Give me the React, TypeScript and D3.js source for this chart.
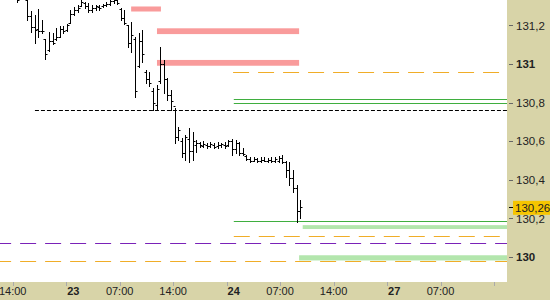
import React from "react";
import * as d3 from "d3";

const W = 550;
const H = 300;
const PLOT_R = 507;
const PLOT_B = 282;

// OHLC bars: [open, high, low, close]
const bars: [number, number, number, number][] = [
  [131.357, 131.383, 131.321, 131.33],
  [131.35, 131.42, 131.345, 131.4],
  [131.4, 131.43, 131.35, 131.36],
  [131.33, 131.36, 131.228, 131.25],
  [131.25, 131.275, 131.166, 131.19],
  [131.19, 131.254, 131.109, 131.176],
  [131.18, 131.285, 131.14, 131.17],
  [131.17, 131.228, 131.161, 131.17],
  [131.13, 131.13, 131.026, 131.05],
  [131.07, 131.166, 131.067, 131.12],
  [131.12, 131.16, 131.104, 131.11],
  [131.13, 131.187, 131.124, 131.14],
  [131.14, 131.197, 131.14, 131.18],
  [131.18, 131.197, 131.16, 131.17],
  [131.175, 131.207, 131.171, 131.2],
  [131.215, 131.28, 131.212, 131.26],
  [131.26, 131.295, 131.254, 131.28],
  [131.28, 131.306, 131.269, 131.29],
  [131.3, 131.332, 131.3, 131.32],
  [131.315, 131.321, 131.29, 131.3],
  [131.3, 131.316, 131.269, 131.28],
  [131.28, 131.306, 131.269, 131.29],
  [131.29, 131.306, 131.28, 131.3],
  [131.295, 131.306, 131.28, 131.29],
  [131.3, 131.31, 131.295, 131.305],
  [131.305, 131.32, 131.3, 131.31],
  [131.31, 131.335, 131.306, 131.325],
  [131.325, 131.34, 131.316, 131.33],
  [131.33, 131.335, 131.311, 131.315],
  [131.285, 131.29, 131.228, 131.24],
  [131.24, 131.28, 131.207, 131.21],
  [131.2, 131.202, 131.088, 131.11],
  [131.11, 131.218, 131.062, 131.15],
  [131.13, 131.14, 130.829, 130.86],
  [130.99, 131.16, 130.984, 131.12],
  [131.12, 131.176, 131.01, 131.05],
  [130.96, 130.969, 130.902, 130.92],
  [130.92, 130.959, 130.886, 130.9],
  [130.86, 130.876, 130.762, 130.8],
  [130.79, 130.891, 130.762, 130.87],
  [130.91, 131.088, 130.902, 131.0],
  [131.0, 131.021, 130.85, 130.92],
  [130.92, 130.927, 130.813, 130.84],
  [130.84, 130.865, 130.762, 130.81],
  [130.78, 130.772, 130.591, 130.62],
  [130.62, 130.674, 130.606, 130.66],
  [130.6, 130.617, 130.518, 130.54],
  [130.54, 130.632, 130.503, 130.62],
  [130.61, 130.668, 130.492, 130.55],
  [130.55, 130.648, 130.503, 130.6],
  [130.58, 130.606, 130.544, 130.59],
  [130.59, 130.596, 130.57, 130.58],
  [130.575, 130.6, 130.57, 130.585],
  [130.58, 130.59, 130.565, 130.575],
  [130.575, 130.596, 130.57, 130.585],
  [130.58, 130.59, 130.565, 130.572],
  [130.575, 130.596, 130.565, 130.58],
  [130.58, 130.59, 130.57, 130.585],
  [130.58, 130.596, 130.565, 130.575],
  [130.58, 130.606, 130.575, 130.6],
  [130.6, 130.611, 130.528, 130.56],
  [130.56, 130.606, 130.539, 130.59],
  [130.59, 130.596, 130.528, 130.54],
  [130.54, 130.565, 130.528, 130.535],
  [130.525, 130.528, 130.503, 130.51],
  [130.51, 130.518, 130.492, 130.5],
  [130.5, 130.518, 130.497, 130.51],
  [130.51, 130.513, 130.492, 130.5],
  [130.5, 130.518, 130.492, 130.505],
  [130.505, 130.518, 130.497, 130.5],
  [130.5, 130.513, 130.492, 130.505],
  [130.505, 130.518, 130.492, 130.498],
  [130.5, 130.518, 130.492, 130.51],
  [130.5, 130.523, 130.492, 130.515],
  [130.515, 130.528, 130.487, 130.49],
  [130.49, 130.497, 130.415, 130.45],
  [130.45, 130.492, 130.373, 130.41],
  [130.41, 130.451, 130.337, 130.36],
  [130.36, 130.373, 130.181, 130.24],
  [130.24, 130.295, 130.202, 130.26],
];

const yTicks = [130, 130.2, 130.4, 130.6, 130.8, 131, 131.2];
const xTickPos = [-1.1, 13.8, 28.7, 43.6, 58.5, 73.4, 88.3, 103.2, 118.1, 133];
const xTickLabels = ["14:00", "23", "07:00", "14:00", "24", "07:00", "14:00", "27", "07:00", ""];
const xTickBold = [false, true, false, false, true, false, false, true, false, false];

// zones: [low, high, fromIndex, toIndex]
const pinkZones: [number, number, number, number][] = [
  [131.272, 131.298, 31.9, 40.2],
  [131.155, 131.185, 39.1, 78.7],
  [130.991, 131.021, 39.1, 78.7],
];
const greenZones: [number, number, number][] = [
  [130.145, 130.165, 79.7],
  [129.982, 130.009, 78.7],
];
const greenLines: [number, number][] = [
  [130.817, 60.5],
  [130.798, 60.5],
  [130.184, 60.5],
];
const orangeLines: [number, number][] = [
  [130.96, 60.3],
  [130.11, 60.5],
  [129.98, -6],
];
const purpleLines: [number, number][] = [[130.07, -6]];
const blackLines: [number, number][] = [[130.76, 5.1]];
const lastPrice = 130.26;

const KHAKI = "#d8d4a8";
const FONT = "'Liberation Sans', Arial, sans-serif";

export default function App() {
  const x = d3.scaleLinear().domain([-1.1, 133]).range([12.7, 494]);
  const y = d3.scaleLinear().domain([130, 131]).range([257, 64]);
  const px = (v: number) => Math.round(x(v)) + 0.5;
  const py = (v: number) => Math.round(y(v)) + 0.5;
  const fmt = (v: number) => (Math.abs(v - Math.round(v)) < 1e-9 ? d3.format("d")(v) : d3.format(".1f")(v).replace(".", ","));

  return (
    <svg width={W} height={H} style={{ position: "fixed", left: 0, top: 0, background: "#fff" }}>
      <defs>
        <clipPath id="plot">
          <rect x={0} y={0} width={PLOT_R} height={PLOT_B} />
        </clipPath>
      </defs>
      <rect x={0} y={0} width={W} height={H} fill={KHAKI} />
      <rect x={0} y={0} width={PLOT_R} height={PLOT_B} fill="#fff" />
      <g clipPath="url(#plot)">
        {pinkZones.map((z, i) => (
          <rect key={"p" + i} x={x(z[2])} width={x(z[3]) - x(z[2])} y={y(z[1])} height={y(z[0]) - y(z[1])} fill="#f99b9b" />
        ))}
        {greenZones.map((z, i) => (
          <rect key={"gz" + i} x={x(z[2])} width={PLOT_R - x(z[2])} y={y(z[1])} height={y(z[0]) - y(z[1])} fill="#b3e6ad" />
        ))}
        {greenLines.map((l, i) => (
          <line key={"gl" + i} x1={x(l[1])} x2={PLOT_R} y1={py(l[0])} y2={py(l[0])} stroke="#3fae3f" strokeWidth={1} />
        ))}
        {orangeLines.map((l, i) => (
          <line key={"ol" + i} x1={x(l[1])} x2={PLOT_R} y1={py(l[0])} y2={py(l[0])} stroke="#f0ad28" strokeWidth={1} strokeDasharray="16,9" />
        ))}
        {purpleLines.map((l, i) => (
          <line key={"pl" + i} x1={x(l[1])} x2={PLOT_R} y1={py(l[0])} y2={py(l[0])} stroke="#7a22b8" strokeWidth={1.2} strokeDasharray="16,9" />
        ))}
        {blackLines.map((l, i) => (
          <line key={"bl" + i} x1={x(l[1])} x2={PLOT_R} y1={py(l[0])} y2={py(l[0])} stroke="#000" strokeWidth={1} strokeDasharray="4,2" />
        ))}
        {bars.map((b, i) => {
          const cx = px(i);
          return (
            <g key={"b" + i} stroke="#000" strokeWidth={1}>
              <line x1={cx} x2={cx} y1={Math.round(y(b[1]))} y2={Math.round(y(b[2])) + 1} />
              <line x1={cx - 2} x2={cx} y1={py(b[0])} y2={py(b[0])} />
              <line x1={cx} x2={cx + 2} y1={py(b[3])} y2={py(b[3])} />
            </g>
          );
        })}
      </g>
      {/* right axis */}
      <g fontFamily={FONT} fontSize={11.5} fill="#222">
        {yTicks.map((t) => (
          <g key={"yt" + t}>
            <line x1={509} x2={513} y1={py(t)} y2={py(t)} stroke="#666" />
            <text x={516} y={y(t)} dy="0.36em" fontWeight={Number.isInteger(t) ? "bold" : "normal"}>
              {fmt(t)}
            </text>
          </g>
        ))}
        <line x1={509} x2={513} y1={py(lastPrice)} y2={py(lastPrice)} stroke="#000" />
        <rect x={513} y={y(lastPrice) - 6} width={37} height={14} fill="#f6c500" />
        <text x={515} y={y(lastPrice) + 1} dy="0.36em">
          {d3.format(".2f")(lastPrice).replace(".", ",")}
        </text>
      </g>
      {/* bottom axis */}
      <g fontFamily={FONT} fontSize={11} fill="#222">
        {xTickPos.map((t, i) => (
          <g key={"xt" + i}>
            <line x1={px(t)} x2={px(t)} y1={PLOT_B} y2={PLOT_B + 4} stroke="#aaa" />
            <text
              x={xTickBold[i] ? x(t) + 1 : x(t)}
              y={295}
              textAnchor={xTickBold[i] ? "start" : "middle"}
              fontWeight={xTickBold[i] ? "bold" : "normal"}
            >
              {xTickLabels[i]}
            </text>
          </g>
        ))}
      </g>
    </svg>
  );
}
